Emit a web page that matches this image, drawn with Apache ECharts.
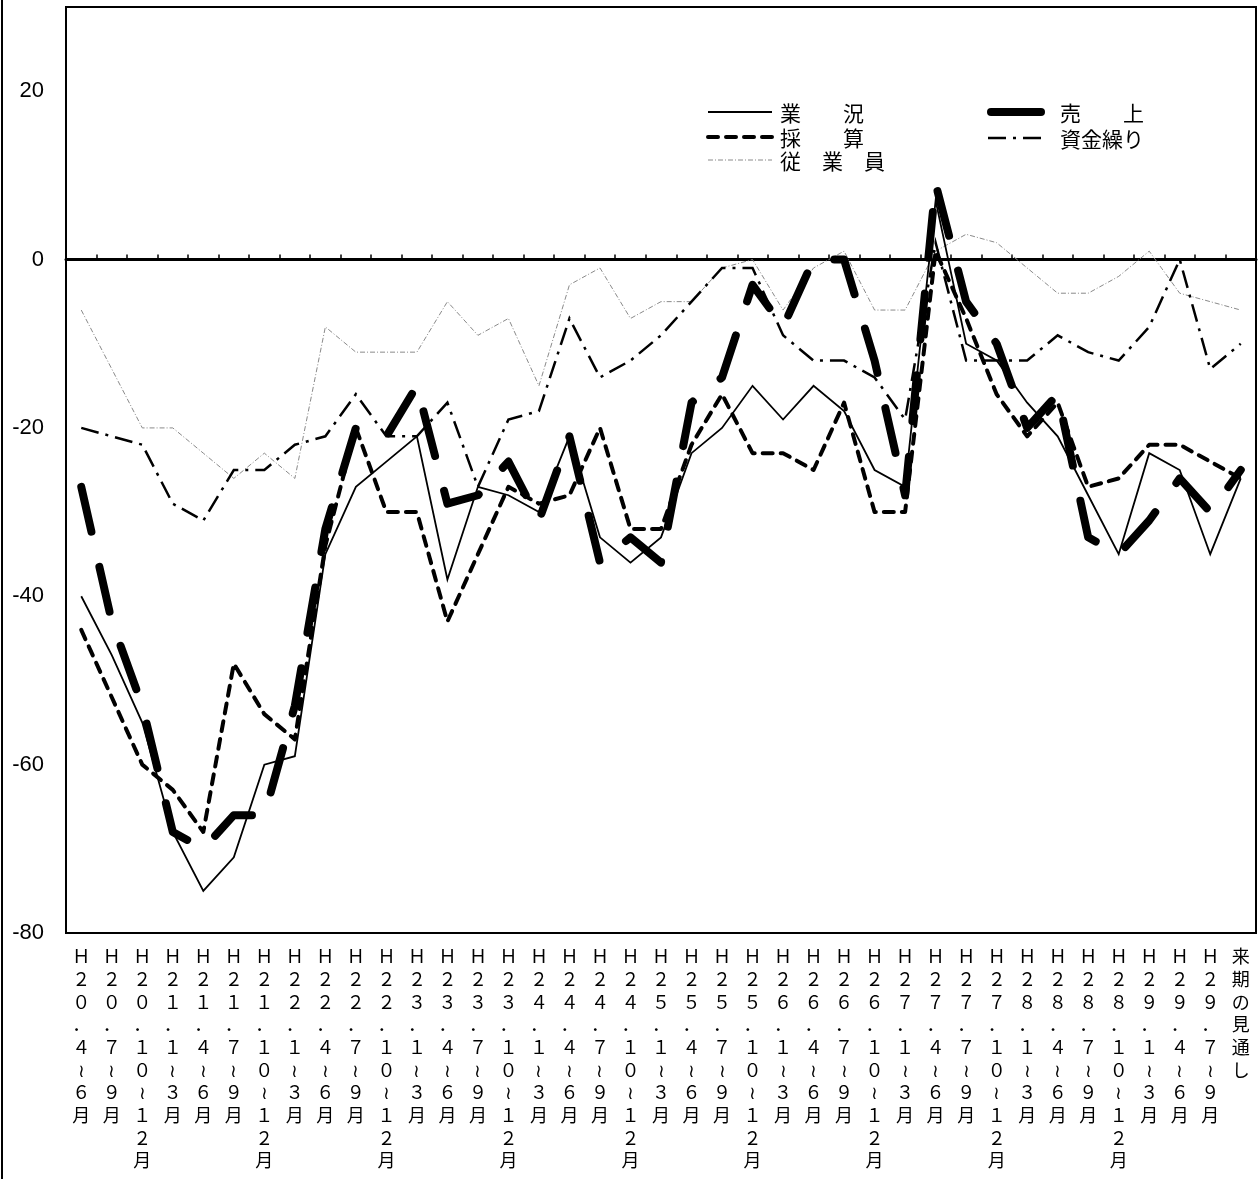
<!DOCTYPE html>
<html>
<head>
<meta charset="utf-8">
<script src="https://cdn.jsdelivr.net/npm/echarts@6/dist/echarts.min.js"></script>
<style>
  html, body { margin: 0; padding: 0; background: #fff; }
  #chart { width: 1259px; height: 1179px; }
</style>
</head>
<body>
<div id="chart"></div>
<script>
// Survey periods (quarters, Heisei era) and the outlook column
const periods = [
  'Ｈ２０．４～６月', 'Ｈ２０．７～９月', 'Ｈ２０．１０～１２月',
  'Ｈ２１．１～３月', 'Ｈ２１．４～６月', 'Ｈ２１．７～９月', 'Ｈ２１．１０～１２月',
  'Ｈ２２．１～３月', 'Ｈ２２．４～６月', 'Ｈ２２．７～９月', 'Ｈ２２．１０～１２月',
  'Ｈ２３．１～３月', 'Ｈ２３．４～６月', 'Ｈ２３．７～９月', 'Ｈ２３．１０～１２月',
  'Ｈ２４．１～３月', 'Ｈ２４．４～６月', 'Ｈ２４．７～９月', 'Ｈ２４．１０～１２月',
  'Ｈ２５．１～３月', 'Ｈ２５．４～６月', 'Ｈ２５．７～９月', 'Ｈ２５．１０～１２月',
  'Ｈ２６．１～３月', 'Ｈ２６．４～６月', 'Ｈ２６．７～９月', 'Ｈ２６．１０～１２月',
  'Ｈ２７．１～３月', 'Ｈ２７．４～６月', 'Ｈ２７．７～９月', 'Ｈ２７．１０～１２月',
  'Ｈ２８．１～３月', 'Ｈ２８．４～６月', 'Ｈ２８．７～９月', 'Ｈ２８．１０～１２月',
  'Ｈ２９．１～３月', 'Ｈ２９．４～６月', 'Ｈ２９．７～９月',
  '来期の見通し'
];

// DI values per period
const gyokyo   = [-40, -47, -55, -68, -75, -71, -60, -59, -35, -27, -24, -21, -38, -27, -28, -30, -21, -33, -36, -33, -23, -20, -15, -19, -15, -18, -25, -27, 7, -10, -12, -17, -21, -28, -35, -23, -25, -35, -26];
const uriage   = [-27, -43, -53, -68, -70, -66, -66, -53, -32, -20, -21, -15, -29, -28, -24, -31, -21, -36, -33, -36, -17, -14, -3, -8, 0, 0, -12, -28, 9, -5, -10, -20, -16, -33, -35, -31, -26, -30, -25];
const saisan   = [-44, -52, -60, -63, -68, -48, -54, -57, -34, -20, -30, -30, -43, -35, -27, -29, -28, -20, -32, -32, -22, -16, -23, -23, -25, -17, -30, -30, 1, -7, -16, -21, -17, -27, -26, -22, -22, -24, -26];
const shikin   = [-20, -21, -22, -29, -31, -25, -25, -22, -21, -16, -21, -21, -17, -27, -19, -18, -7, -14, -12, -9, -5, -1, -1, -9, -12, -12, -14, -19, 2, -12, -12, -12, -9, -11, -12, -8, 0, -13, -10];
const jugyoin  = [-6, -13, -20, -20, -23, -26, -23, -26, -8, -11, -11, -11, -5, -9, -7, -15, -3, -1, -7, -5, -5, -1, 0, -6, -1, 1, -6, -6, 1, 3, 2, -1, -4, -4, -2, 1, -4, -5, -6];

// y axis range and step
const yMin = -80, yMax = 30, yStep = 20;

// line looks shared by the plot and the key
const looks = {
  gyokyo:  { color: '#000', width: 1.8, type: 'solid', cap: 'butt', join: 'miter' },
  uriage:  { color: '#000', width: 8, type: [46, 36], cap: 'round', join: 'round', keySolid: true },
  saisan:  { color: '#000', width: 4, type: [10, 8], cap: 'round', join: 'round' },
  shikin:  { color: '#000', width: 2.5, type: [18, 7, 3, 7], cap: 'butt', join: 'miter' },
  jugyoin: { color: '#8a8a8a', width: 1, type: [5, 2, 1, 2], cap: 'butt', join: 'miter' }
};

const seriesDefs = [
  { name: '業況', data: gyokyo, look: looks.gyokyo, z: 3 },
  { name: '従業員', data: jugyoin, look: looks.jugyoin, z: 2 },
  { name: '資金繰り', data: shikin, look: looks.shikin, z: 4 },
  { name: '採算', data: saisan, look: looks.saisan, z: 5 },
  { name: '売上', data: uriage, look: looks.uriage, z: 6 }
];

const labelFont = '"Noto Sans CJK JP", sans-serif';

// key entries: [text, look, x of sample start, y]
const keyItems = [
  ['業　　況', looks.gyokyo, 708, 112],
  ['採　　算', looks.saisan, 708, 137],
  ['従　業　員', looks.jugyoin, 708, 160],
  ['売　　上', looks.uriage, 991, 112],
  ['資金繰り', looks.shikin, 988, 138]
];

const keyGraphics = [];
keyItems.forEach(([text, look, x, y]) => {
  const len = x < 900 ? 64 : (look.keySolid ? 50 : 57);
  keyGraphics.push({
    type: 'line',
    shape: { x1: x, y1: y, x2: x + len, y2: y },
    style: {
      stroke: look.color,
      lineWidth: look.width,
      lineDash: (Array.isArray(look.type) && !look.keySolid) ? look.type : null,
      lineCap: look.cap
    },
    silent: true
  });
  keyGraphics.push({
    type: 'text',
    x: x < 900 ? 780 : 1060,
    y: y + 1,
    style: {
      text: text,
      fontSize: 21,
      fontFamily: labelFont,
      fill: '#000',
      verticalAlign: 'middle',
      align: 'left'
    },
    silent: true
  });
});

// outer rule along the left edge of the figure
keyGraphics.push({
  type: 'line',
  shape: { x1: 2, y1: 0, x2: 2, y2: 1179 },
  style: { stroke: '#000', lineWidth: 2 },
  silent: true
});

const chart = echarts.init(document.getElementById('chart'), null, { renderer: 'canvas' });

chart.setOption({
  animation: false,
  backgroundColor: '#fff',
  grid: {
    left: 66, top: 7, width: 1190, height: 926,
    show: true, borderColor: '#000', borderWidth: 2,
    containLabel: false
  },
  xAxis: [
    {
      type: 'category',
      data: periods,
      boundaryGap: true,
      position: 'bottom',
      axisLine: { show: false, onZero: false },
      axisTick: { show: false },
      axisLabel: {
        interval: 0,
        margin: 12,
        fontSize: 18,
        lineHeight: 22.7,
        fontFamily: labelFont,
        color: '#000',
        verticalAlign: 'top',
        formatter: v => Array.from(v).map(c => (c === '～' ? '≀' : c)).join('\n')
      },
      splitLine: { show: false }
    },
    {
      // zero line with period separators
      type: 'category',
      data: periods,
      boundaryGap: true,
      position: 'bottom',
      axisLine: { show: true, onZero: true, lineStyle: { color: '#000', width: 3 } },
      axisTick: { show: true, inside: true, interval: 0, length: 5, lineStyle: { color: '#000', width: 1.5 } },
      axisLabel: { show: false },
      splitLine: { show: false }
    }
  ],
  yAxis: {
    type: 'value',
    min: yMin, max: yMax, interval: yStep,
    axisLine: { show: false },
    axisTick: { show: false },
    splitLine: { show: false },
    axisLabel: {
      showMaxLabel: false,
      margin: 22,
      fontSize: 22,
      fontFamily: '"Liberation Sans", Arial, sans-serif',
      color: '#000'
    }
  },
  graphic: keyGraphics,
  series: seriesDefs.map(s => ({
    name: s.name,
    type: 'line',
    xAxisIndex: 0,
    data: s.data,
    symbol: 'none',
    z: s.z,
    lineStyle: {
      color: s.look.color,
      width: s.look.width,
      type: s.look.type,
      cap: s.look.cap,
      join: s.look.join
    }
  }))
});
</script>
</body>
</html>
